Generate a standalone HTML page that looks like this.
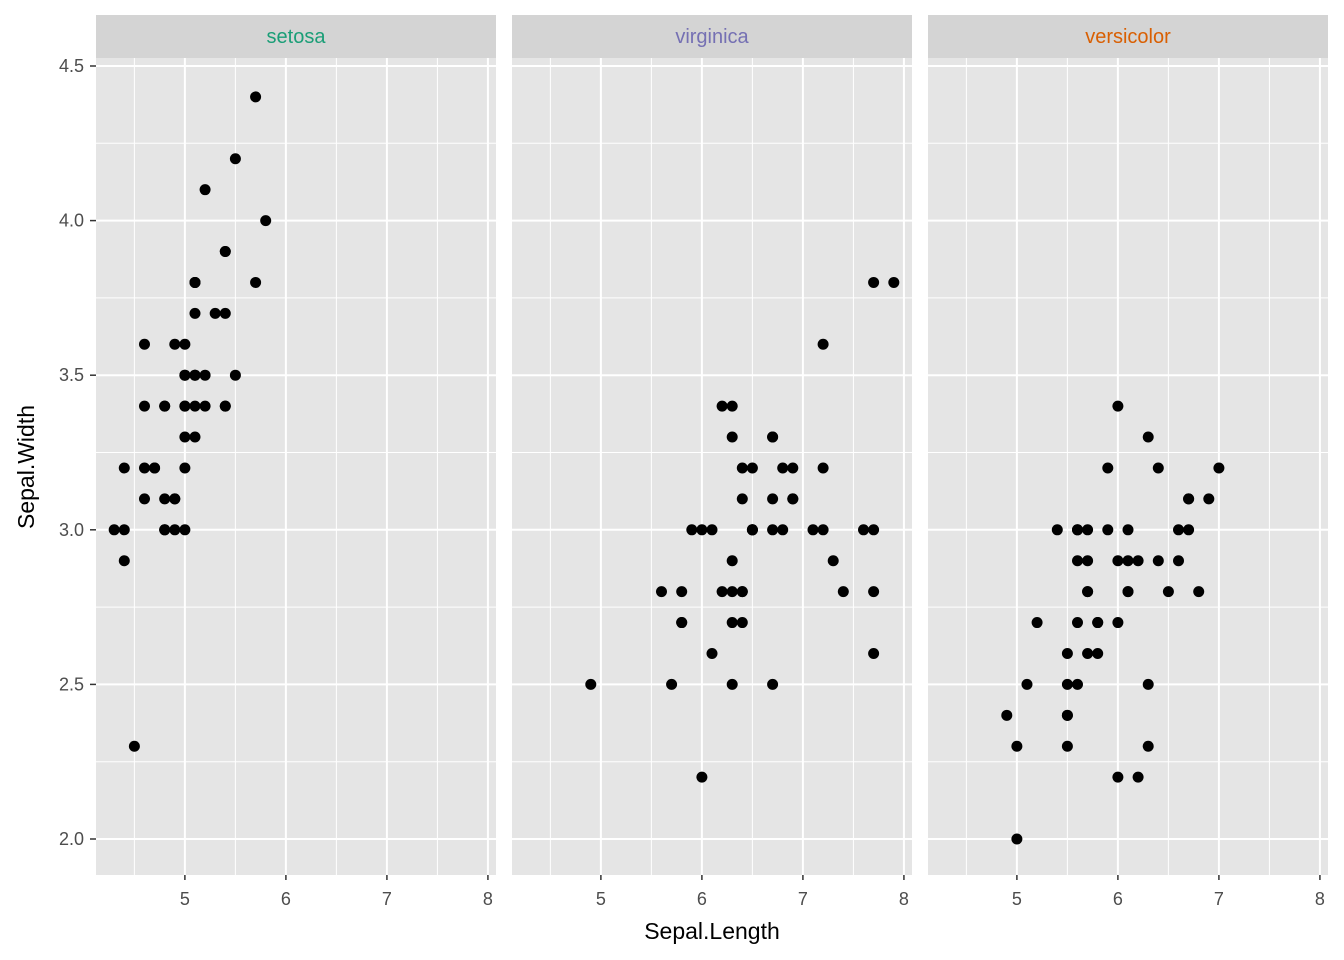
<!DOCTYPE html>
<html><head><meta charset="utf-8"><style>
body{margin:0;background:#fff;}
svg{display:block;font-family:"Liberation Sans",Arial,sans-serif;}
</style></head><body>
<svg id="chart" width="1344" height="960"></svg>
<script>
const panels = ["setosa","virginica","versicolor"];
const stripColors = ["#1b9e77","#7570b3","#d95f02"];
const xTicks = [5,6,7,8];
const yTicks = [2.0,2.5,3.0,3.5,4.0,4.5];
const setosaPts = [[5.1,3.5],[4.9,3.0],[4.7,3.2],[4.6,3.1],[5.0,3.6],[5.4,3.9],[4.6,3.4],[5.0,3.4],[4.4,2.9],[4.9,3.1],[5.4,3.7],[4.8,3.4],[4.8,3.0],[4.3,3.0],[5.8,4.0],[5.7,4.4],[5.4,3.9],[5.1,3.5],[5.7,3.8],[5.1,3.8],[5.4,3.4],[5.1,3.7],[4.6,3.6],[5.1,3.3],[4.8,3.4],[5.0,3.0],[5.0,3.4],[5.2,3.5],[5.2,3.4],[4.7,3.2],[4.8,3.1],[5.4,3.4],[5.2,4.1],[5.5,4.2],[4.9,3.1],[5.0,3.2],[5.5,3.5],[4.9,3.6],[4.4,3.0],[5.1,3.4],[5.0,3.5],[4.5,2.3],[4.4,3.2],[5.0,3.5],[5.1,3.8],[4.8,3.0],[5.1,3.8],[4.6,3.2],[5.3,3.7],[5.0,3.3]];
const virginicaPts = [[6.3,3.3],[5.8,2.7],[7.1,3.0],[6.3,2.9],[6.5,3.0],[7.6,3.0],[4.9,2.5],[7.3,2.9],[6.7,2.5],[7.2,3.6],[6.5,3.2],[6.4,2.7],[6.8,3.0],[5.7,2.5],[5.8,2.8],[6.4,3.2],[6.5,3.0],[7.7,3.8],[7.7,2.6],[6.0,2.2],[6.9,3.2],[5.6,2.8],[7.7,2.8],[6.3,2.7],[6.7,3.3],[7.2,3.2],[6.2,2.8],[6.1,3.0],[6.4,2.8],[7.2,3.0],[7.4,2.8],[7.9,3.8],[6.4,2.8],[6.3,2.8],[6.1,2.6],[7.7,3.0],[6.3,3.4],[6.4,3.1],[6.0,3.0],[6.9,3.1],[6.7,3.1],[6.9,3.1],[5.8,2.7],[6.8,3.2],[6.7,3.3],[6.7,3.0],[6.3,2.5],[6.5,3.0],[6.2,3.4],[5.9,3.0]];
const versicolorPts = [[7.0,3.2],[6.4,3.2],[6.9,3.1],[5.5,2.3],[6.5,2.8],[5.7,2.8],[6.3,3.3],[4.9,2.4],[6.6,2.9],[5.2,2.7],[5.0,2.0],[5.9,3.0],[6.0,2.2],[6.1,2.9],[5.6,2.9],[6.7,3.1],[5.6,3.0],[5.8,2.7],[6.2,2.2],[5.6,2.5],[5.9,3.2],[6.1,2.8],[6.3,2.5],[6.1,2.8],[6.4,2.9],[6.6,3.0],[6.8,2.8],[6.7,3.0],[6.0,2.9],[5.7,2.6],[5.5,2.4],[5.5,2.4],[5.8,2.7],[6.0,2.7],[5.4,3.0],[6.0,3.4],[6.7,3.1],[6.3,2.3],[5.6,3.0],[5.5,2.5],[5.5,2.6],[6.1,3.0],[5.8,2.6],[5.0,2.3],[5.6,2.7],[5.7,3.0],[5.7,2.9],[6.2,2.9],[5.1,2.5],[5.7,2.8]];
const allPts = [setosaPts, virginicaPts, versicolorPts];

const NS="http://www.w3.org/2000/svg";
const svg=document.getElementById('chart');
function mk(t,a,p){const e=document.createElementNS(NS,t);for(const k in a)e.setAttribute(k,a[k]);(p||svg).appendChild(e);return e;}
const panelX=[96,512,928], PW=400, PT=58, PB=875, ST=15;
const xmin=4.12,xmax=8.08;
const xs=(v,i)=>panelX[i]+(v-xmin)/(xmax-xmin)*PW;
const ys=v=>839-(v-2)*309.2;

panels.forEach((name,i)=>{
  const g=mk('g',{});
  
  
  const bg=mk('rect',{x:panelX[i],y:PT,width:PW,height:PB-PT,fill:'#e5e5e5'},g);
  
  
  const st=mk('rect',{x:panelX[i],y:ST,width:PW,height:PT-ST,fill:'#d4d4d4'},g);
  
  
  const tl=mk('text',{x:panelX[i]+PW/2,y:43,'text-anchor':'middle','font-size':'20',fill:stripColors[i]},g);
  tl.textContent=name;
  
  
  for(let k=0;k<xTicks.length;k++){
    const m=xTicks[k]-0.5;
    mk('line',{x1:xs(m,i),x2:xs(m,i),y1:PT,y2:PB,stroke:'#fff','stroke-width':1},g);
  }
  for(let k=0;k<yTicks.length-1;k++){
    const m=yTicks[k]+0.25;
    mk('line',{x1:panelX[i],x2:panelX[i]+PW,y1:ys(m),y2:ys(m),stroke:'#fff','stroke-width':1},g);
  }
  xTicks.forEach(t=>{
    const gl=mk('line',{x1:xs(t,i),x2:xs(t,i),y1:PT,y2:PB,stroke:'#fff','stroke-width':2},g);
    
    
    mk('line',{x1:xs(t,i),x2:xs(t,i),y1:PB,y2:PB+5,stroke:'#333','stroke-width':1.5},g);
    const lb=mk('text',{x:xs(t,i),y:905,'text-anchor':'middle','font-size':'18',fill:'#4d4d4d'},g);
    lb.textContent=t;
    
    
  });
  yTicks.forEach(t=>{
    const gl=mk('line',{x1:panelX[i],x2:panelX[i]+PW,y1:ys(t),y2:ys(t),stroke:'#fff','stroke-width':2},g);
    
    
  });
  allPts[i].forEach(p=>{
    const c=mk('circle',{cx:xs(p[0],i),cy:ys(p[1]),r:5.5,fill:'#000'},g);
    
    
  });
});
yTicks.forEach(t=>{
  mk('line',{x1:90,x2:96,y1:ys(t),y2:ys(t),stroke:'#333','stroke-width':1.5});
  const lb=mk('text',{x:84,y:ys(t)+6,'text-anchor':'end','font-size':'18',fill:'#4d4d4d'});
  lb.textContent=t.toFixed(1);
  
  
});
const xt=mk('text',{x:712,y:939,'text-anchor':'middle','font-size':'23',fill:'#000'});
xt.textContent='Sepal.Length';


const yt=mk('text',{x:34,y:467,'text-anchor':'middle','font-size':'23',fill:'#000',transform:'rotate(-90 34 467)'});
yt.textContent='Sepal.Width';


</script>
</body></html>
